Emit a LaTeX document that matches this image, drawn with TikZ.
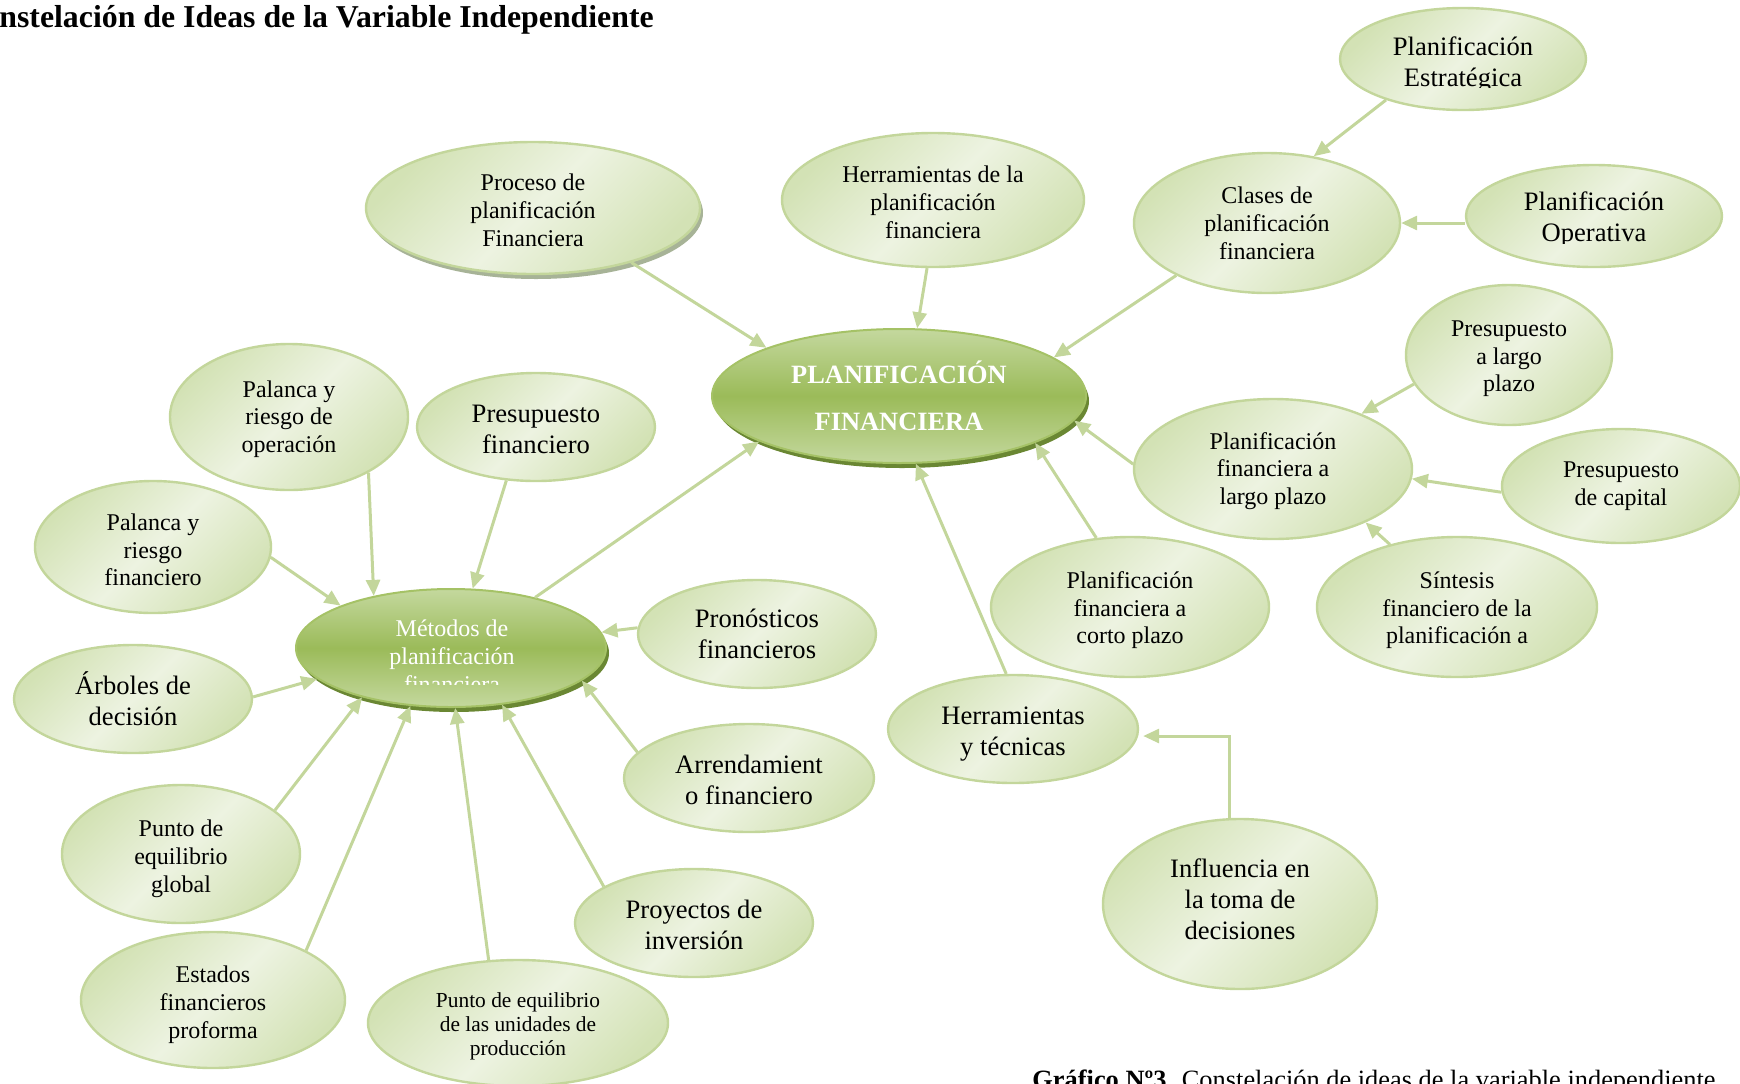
\documentclass[tikz,border=0pt]{standalone}
\usepackage{fontspec}
\setmainfont{Liberation Serif}
\usetikzlibrary{arrows.meta,shapes.geometric,calc,shadows}

\definecolor{lineG}{HTML}{C3D69B}
\definecolor{nodeEdge}{HTML}{C3D69B}
\definecolor{nodeA}{HTML}{D3E2B5}
\definecolor{nodeB}{HTML}{EDF3E1}
\definecolor{hubTop}{HTML}{C4D89E}
\definecolor{hubMid}{HTML}{9BBB59}
\definecolor{hubEdge}{HTML}{A5C266}
\definecolor{hubShadow}{HTML}{6A8733}
\definecolor{procShadow}{HTML}{A7B397}

% invisible strut that makes the first line of a label taller
\newcommand{\myTopStrut}[1]{\rule{0pt}{#1}}

\tikzset{
  idea/.style 2 args={ellipse, draw=nodeEdge, line width=1.2pt, inner sep=0pt,
    minimum width=#1pt, minimum height=#2pt,
    left color=nodeA, right color=nodeA, middle color=nodeB, shading angle=45,
    align=center, text=black},
  hub/.style 2 args={ellipse, draw=hubEdge, line width=1pt, inner sep=0pt,
    minimum width=#1pt, minimum height=#2pt,
    top color=hubTop, bottom color=hubTop, middle color=hubMid,
    align=center, text=white,
    drop shadow={shadow xshift=1.5pt, shadow yshift=-2.5pt, fill=hubShadow, opacity=1}},
  txtBig/.style={font=\fontsize{13.3}{15.5}\selectfont},
  txtSmall/.style={font=\fontsize{12}{13.9}\selectfont},
  txtTiny/.style={font=\fontsize{10.7}{12.2}\selectfont},
  % deepen the last line to lift the text block a little
  lift/.style={execute at end node={\rule[-#1]{0pt}{#1}}},
  link/.style={draw=lineG, line width=1.5pt, -{Triangle[length=8pt,width=7pt]}},
}

\begin{document}
\begin{tikzpicture}[x=0.5pt, y=-0.5pt]
\useasboundingbox (0,0) rectangle (1740,1083);
\clip (0,0) rectangle (1740,1083);

% heading and caption
\node[anchor=base west, font=\fontsize{15.9}{19}\selectfont\bfseries, inner sep=0pt]
  (title) at (-1,27) {nstelación de Ideas de la Variable Independiente};
\node[anchor=base west, font=\fontsize{13.2}{15}\selectfont, inner sep=0pt]
  (caption) at (1032,1088) {\textbf{Gráfico Nº3.} Constelación de ideas de la variable independiente};

% central hubs
\node[hub={187}{67}, font=\fontsize{13.2}{23.3}\selectfont\bfseries] (cen) at (899,396) {PLANIFICACIÓN\\FINANCIERA};
\node[hub={155}{59}] (met) at (451,648) {};
\begin{scope}
  \clip (290,560) rectangle (620,684);
  \node[font=\fontsize{12}{14}\selectfont, text=white, align=center, inner sep=0pt] (mett) at (452,656) {Métodos de\\planificación\\financiera};
\end{scope}

% right-hand branch
\node[idea={123}{51}] (estr) at (1463,59) {};
\begin{scope}
  \clip (1340,0) rectangle (1590,87);
  \node[txtBig, align=center, inner sep=0pt] (estrt) at (1463,64) {Planificación\\Estratégica};
\end{scope}
\node[idea={128}{51}] (oper) at (1594,216) {};
\begin{scope}
  \clip (1466,160) rectangle (1722,243);
  \node[txtBig, align=center, inner sep=0pt] (opert) at (1594,219) {Planificación\\Operativa};
\end{scope}
\node[idea={133}{70}, txtSmall] (clases) at (1267,223) {Clases de\\planificación\\financiera};
\node[idea={151}{67}, txtSmall] (herr) at (933,200) {\myTopStrut{10.5pt}Herramientas de la\\planificación\\financiera};
\node[idea={167}{66}, txtSmall,
  drop shadow={shadow xshift=1.5pt, shadow yshift=-2.5pt, fill=procShadow, opacity=1}]
  (proc) at (533,208) {\myTopStrut{10.8pt}Proceso de\\planificación\\Financiera};
\node[idea={103}{70}, txtSmall] (plargo) at (1509,355) {\myTopStrut{11.6pt}Presupuesto\\a largo\\plazo};
\node[idea={139}{70}, txtSmall] (pflargo) at (1273,469) {\myTopStrut{10.5pt}Planificación\\financiera a\\largo plazo};
\node[idea={119}{57}, txtSmall] (pcap) at (1621,486) {Presupuesto\\de capital};
\node[idea={140}{70}, txtSmall] (sint) at (1457,607) {\myTopStrut{11.6pt}Síntesis\\financiero de la\\planificación a};
\node[idea={139}{70}, txtSmall] (corto) at (1130,607) {\myTopStrut{11.6pt}Planificación\\financiera a\\corto plazo};
\node[idea={125}{54}, txtBig] (herrt) at (1013,729) {\myTopStrut{13.6pt}Herramientas\\y técnicas};
\node[idea={137}{85}, txtBig, lift=4.4pt] (infl) at (1240,904) {Influencia en\\la toma de\\decisiones};

% left-hand branch
\node[idea={119}{73}, txtSmall] (palop) at (289,417) {\myTopStrut{10.5pt}Palanca y\\riesgo de\\operación};
\node[idea={119}{54}, txtBig] (presf) at (536,427) {\myTopStrut{11.4pt}Presupuesto\\financiero};
\node[idea={118}{66}, txtSmall] (palf) at (153,547) {\myTopStrut{11.3pt}Palanca y\\riesgo\\financiero};
\node[idea={119}{54}, txtBig] (arb) at (133,699) {Árboles de\\decisión};
\node[idea={119}{54}, txtBig] (pron) at (757,634) {Pronósticos\\financieros};
\node[idea={125}{54}, txtBig] (arr) at (749,778) {\myTopStrut{11.4pt}Arrendamient\\o financiero};
\node[idea={119}{69}, txtSmall] (pglob) at (181,854) {\myTopStrut{13.3pt}Punto de\\equilibrio\\global};
\node[idea={119}{54}, txtBig] (proy) at (694,923) {\myTopStrut{11.4pt}Proyectos de\\inversión};
\node[idea={132}{68}, txtSmall] (est) at (213,1000) {\myTopStrut{13.3pt}Estados\\financieros\\proforma};
\node[idea={150}{63}, txtTiny] (punid) at (518,1023) {\myTopStrut{10.7pt}Punto de equilibrio\\de las unidades de\\producción};

% connectors into the main hub
\draw[link] (estr.208) -- (clases.55);
\draw[link] (oper.west |- clases.east) -- (clases.east);
\draw[link] (clases.210) -- (cen.14.5);
\draw[link] (herr.265) -- (cen.75);
\draw[link] (proc.331) -- (cen.160);
\draw[link] (plargo.197) -- (pflargo.32);
\draw[link] (pcap.183) -- (pflargo.356);
\draw[link] (sint.137) -- (pflargo.330);
\draw[link] (pflargo.178) -- (cen.352);
\draw[link] (corto.116) -- (cen.341);
\draw[link] (herrt.97) -- (cen.284);
\draw[link] (infl.north) ++(-11,0) |- ($(herrt.east)+(4,7)$);

% connectors into the methods hub
\draw[link] (met.31) -- (cen.198);
\draw[link] (palop.325) -- (met.146);
\draw[link] (presf.241) -- (met.70);
\draw[link] (palf.355) -- (met.159);
\draw[link] (arb.1) -- (met.193);
\draw[link] (pron.177) -- (met.6);
\draw[link] (arr.167) -- (met.346);
\draw[link] (pglob.25) -- (met.209);
\draw[link] (est.28) -- (met.235);
\draw[link] (punid.115) -- (met.274);
\draw[link] (proy.158) -- (met.312);
\end{tikzpicture}
\end{document}
